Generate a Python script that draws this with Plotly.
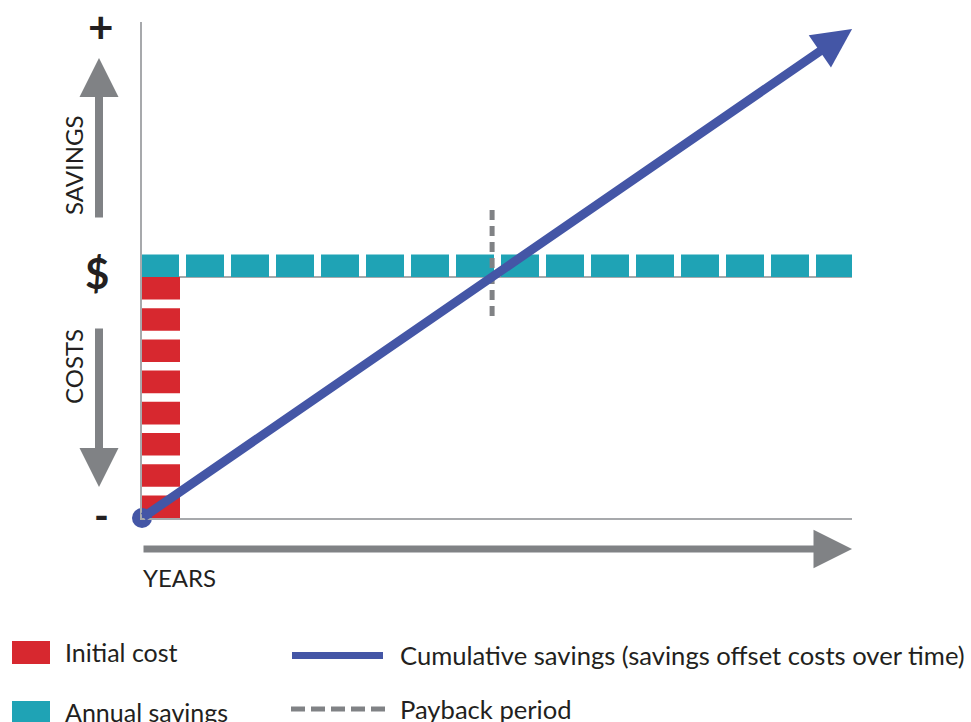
import plotly.graph_objects as go

# ---------------- data ----------------
years = list(range(16))                 # one teal block per year
annual_savings = [1] * 16               # savings units per year
initial_cost_blocks = [1] * 8           # up-front cost, in units (stacked red blocks)
cumulative_years = [0, 15.78]           # cumulative savings line (start / arrow tip)
cumulative_savings = [-8, 8.23]
payback_year = 7.78
payback_span = [2.22, -1.49]            # vertical extent of the payback marker

axis_texts = {"plus": "+", "dollar": "$", "minus": "-",
              "savings": "SAVINGS", "costs": "COSTS", "years": "YEARS"}
legend_labels = ["Initial cost", "Annual savings",
                 "Cumulative savings (savings offset costs over time)", "Payback period"]

# ---------------- styles ----------------
RED = "#d7282f"
TEAL = "#1fa3b5"
BLUE = "#4456a6"
GRAY = "#808285"
AXIS = "#a7a9ac"
INK = "#231f20"
FONT = "Lato"

W, H = 971, 722
PL, PR, PT, PB = 142, 852, 22, 518
PX_PER_YEAR = 45.0
PX_PER_UNIT = 30.125
ZERO_PX = 277

x_range = [0, (PR - PL) / PX_PER_YEAR]
y_range = [-(PB - ZERO_PX) / PX_PER_UNIT, (ZERO_PX - PT) / PX_PER_UNIT]

BLOCK_W = 38 / PX_PER_YEAR
BLOCK_H = 0.75


def fx(px):
    return (px - PL) / (PR - PL)


def fy(py):
    return (PB - py) / (PB - PT)


fig = go.Figure()

# teal annual savings blocks
fig.add_trace(go.Bar(
    x=years, y=[v * BLOCK_H for v in annual_savings], base=0,
    width=BLOCK_W, offset=-1 / PX_PER_YEAR,
    marker=dict(color=TEAL, line=dict(width=0)), showlegend=False, hoverinfo="skip"))

# red initial cost blocks (stacked downward with small white gaps)
total_cost = sum(initial_cost_blocks)
n_cost = len(initial_cost_blocks)
pitch = (total_cost - BLOCK_H) / (n_cost - 1)
bases = [-k * pitch for k in range(n_cost)]
fig.add_trace(go.Bar(
    x=[0] * n_cost, y=[-BLOCK_H * v for v in initial_cost_blocks], base=bases,
    width=BLOCK_W, offset=0,
    marker=dict(color=RED, line=dict(width=0)), showlegend=False, hoverinfo="skip"))

# payback period dashed marker
fig.add_trace(go.Scatter(
    x=[payback_year, payback_year], y=payback_span, mode="lines",
    line=dict(color=GRAY, width=5, dash="10px,6px"),
    showlegend=False, hoverinfo="skip"))

# start dot of the cumulative savings line
fig.add_trace(go.Scatter(
    x=cumulative_years[:1], y=cumulative_savings[:1], mode="markers",
    marker=dict(color=BLUE, size=20), cliponaxis=False,
    showlegend=False, hoverinfo="skip"))

annotations = []

# cumulative savings line drawn as an arrow in data coordinates
annotations.append(dict(
    x=cumulative_years[-1], y=cumulative_savings[-1], xref="x", yref="y",
    ax=cumulative_years[0], ay=cumulative_savings[0], axref="x", ayref="y",
    text="", showarrow=True, arrowhead=2, arrowwidth=9, arrowsize=0.87,
    arrowcolor=BLUE))


def gray_arrow(tip, tail, width=8, size=0.975):
    annotations.append(dict(
        x=fx(tip[0]), y=fy(tip[1]), xref="paper", yref="paper",
        ax=tail[0] - tip[0], ay=tail[1] - tip[1], axref="pixel", ayref="pixel",
        text="", showarrow=True, arrowhead=2, arrowwidth=width, arrowsize=size,
        arrowcolor=GRAY))


gray_arrow((99, 58), (99, 219))
gray_arrow((99, 487), (99, 327))
gray_arrow((852, 549), (142, 549), width=7, size=1.1)


def label(text, px, py, size, bold=False, angle=0, xanchor="center"):
    annotations.append(dict(
        x=fx(px), y=fy(py), xref="paper", yref="paper", text=text,
        showarrow=False, textangle=angle, xanchor=xanchor, yanchor="middle",
        font=dict(family=FONT, size=size, color=INK, weight="bold" if bold else "normal")))


label(axis_texts["plus"], 101, 26, 44, bold=True)
label(axis_texts["dollar"], 97, 273, 42, bold=True)
label(axis_texts["minus"], 101, 515, 40, bold=True)
label(axis_texts["savings"], 73, 165, 24, angle=-90)
label(axis_texts["costs"], 73, 367, 24, angle=-90)
label(axis_texts["years"], 141, 577, 24, xanchor="left")

# legend (custom, to match swatch sizes)
label(legend_labels[0], 63, 652, 25, xanchor="left")
label(legend_labels[1], 63, 712, 25, xanchor="left")
label(legend_labels[2], 398, 655, 25.6, xanchor="left")
label(legend_labels[3], 398, 709, 25.6, xanchor="left")

shapes = [
    dict(type="rect", xref="paper", yref="paper", x0=fx(12), x1=fx(50), y0=fy(641), y1=fy(664),
         fillcolor=RED, line=dict(width=0)),
    dict(type="rect", xref="paper", yref="paper", x0=fx(12), x1=fx(50), y0=fy(701), y1=fy(726),
         fillcolor=TEAL, line=dict(width=0)),
    dict(type="line", xref="paper", yref="paper", x0=fx(292), x1=fx(383), y0=fy(655.5), y1=fy(655.5),
         line=dict(color=BLUE, width=7)),
    dict(type="line", xref="paper", yref="paper", x0=fx(291), x1=fx(385), y0=fy(709), y1=fy(709),
         line=dict(color=GRAY, width=5, dash="14px,6px")),
]

fig.update_layout(
    width=W, height=H, autosize=False,
    margin=dict(l=PL, r=W - PR, t=PT, b=H - PB, pad=0),
    paper_bgcolor="white", plot_bgcolor="white",
    barmode="overlay", showlegend=False,
    annotations=annotations, shapes=shapes,
    font=dict(family=FONT, color=INK),
    xaxis=dict(range=x_range, showgrid=False, zeroline=False, showticklabels=False,
               ticks="", showline=True, linecolor=AXIS, linewidth=2, fixedrange=True),
    yaxis=dict(range=y_range, showgrid=False, zeroline=True, zerolinecolor=AXIS,
               zerolinewidth=2, showticklabels=False, ticks="", showline=True,
               linecolor=AXIS, linewidth=2, fixedrange=True),
)

fig.write_html(
    "out.html",
    config={"displayModeBar": False},
    post_script="document.body.style.margin='0';document.body.style.overflow='hidden';",
)
